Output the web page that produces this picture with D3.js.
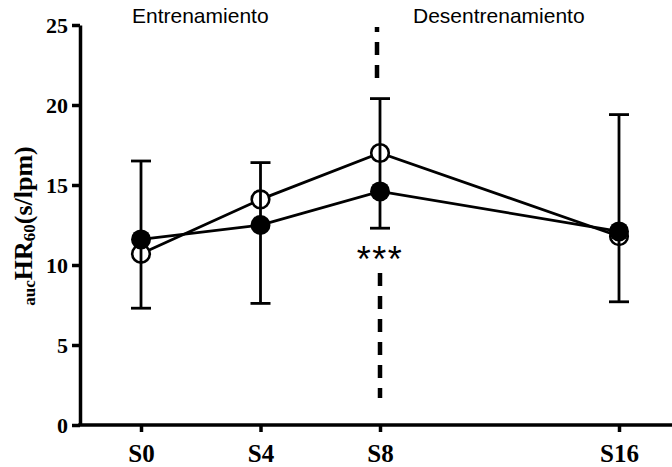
<!DOCTYPE html>
<html>
<head>
<meta charset="utf-8">
<script src="https://cdn.jsdelivr.net/npm/d3@7"></script>
<style>
  html, body { margin: 0; padding: 0; background: #ffffff; }
  svg { display: block; }
  .tickText { font: bold 22px "Liberation Serif", "Times New Roman", serif; fill: #000; }
  .xTickText { font: bold 25px "Liberation Serif", "Times New Roman", serif; fill: #000; }
  .phaseText { font: 21px "Liberation Sans", Arial, sans-serif; fill: #000; }
  .starText { font: 36px "Liberation Sans", Arial, sans-serif; fill: #000; letter-spacing: 1.5px; }
  .axisTitle { font: bold 26px "Liberation Serif", "Times New Roman", serif; fill: #000; }
</style>
</head>
<body>
<script>
const weeks = [0, 4, 8, 16];
const weekLabels = ["S0", "S4", "S8", "S16"];
const openMeans = [10.7, 14.1, 17.0, 11.8];
const filledMeans = [11.6, 12.5, 14.6, 12.1];
const errorTop = [16.5, 16.4, 20.4, 19.4];
const errorBottom = [7.3, 7.6, 12.3, 7.7];
const yTicks = [0, 5, 10, 15, 20, 25];
const phaseLabels = ["Entrenamiento", "Desentrenamiento"];
const significance = "***";

const svgWidth = 672;
const svgHeight = 467;

// Scales

const x = d3.scaleLinear().domain([0, 16]).range([141, 619]);
const y = d3.scaleLinear().domain([0, 25]).range([425, 25]);

const svg = d3
  .select("body")
  .append("svg")
  .attr("width", svgWidth)
  .attr("height", svgHeight)
  .attr("viewBox", `0 0 ${svgWidth} ${svgHeight}`);

// Y axis

const yAxis = svg
  .append("g")
  .attr("transform", "translate(80, 0)")
  .call(
    d3.axisLeft(y).tickValues(yTicks).tickSize(8).tickPadding(4).tickSizeOuter(0)
  );
yAxis.select(".domain").attr("stroke", "#000").attr("stroke-width", 3.5);
yAxis.selectAll(".tick line").attr("stroke", "#000").attr("stroke-width", 3.5);
yAxis
  .selectAll(".tick text")
  .attr("class", "tickText")
  .attr("font-family", null)
  .attr("font-size", null)
  .attr("dy", "0.36em");

// X axis

const xAxis = svg
  .append("g")
  .attr("transform", `translate(0, ${y(0)})`)
  .call(
    d3
      .axisBottom(x)
      .tickValues(weeks)
      .tickFormat((d, i) => weekLabels[i])
      .tickSize(7)
      .tickPadding(6)
      .tickSizeOuter(0)
  );
xAxis
  .select(".domain")
  .attr("d", `M78.25,0H${svgWidth}`)
  .attr("stroke", "#000")
  .attr("stroke-width", 3.5);
xAxis.selectAll(".tick line").attr("stroke", "#000").attr("stroke-width", 3.5);
xAxis
  .selectAll(".tick text")
  .attr("class", "xTickText")
  .attr("font-family", null)
  .attr("font-size", null)
  .attr("dy", "0.95em");

// Y axis title

const title = svg
  .append("text")
  .attr("class", "axisTitle")
  .attr("text-anchor", "middle")
  .attr("transform", "translate(32, 226) rotate(-90)");
title.append("tspan").attr("font-size", 17).attr("dy", 3).text("auc");
title.append("tspan").attr("dy", -3).text("HR");
title.append("tspan").attr("font-size", 17).attr("dy", 3).text("60");
title.append("tspan").attr("dy", -3).text("(s/lpm)");

// Phase labels and divider

svg
  .append("text")
  .attr("class", "phaseText")
  .attr("x", x(0) - 9)
  .attr("y", 23)
  .text(phaseLabels[0]);

svg
  .append("text")
  .attr("class", "phaseText")
  .attr("x", x(8) + 33)
  .attr("y", 23)
  .text(phaseLabels[1]);

svg
  .append("line")
  .attr("x1", x(8) - 3)
  .attr("x2", x(8) - 3)
  .attr("y1", 27)
  .attr("y2", 79)
  .attr("stroke", "#000")
  .attr("stroke-width", 4.5)
  .attr("stroke-dasharray", "13,10")
  .attr("stroke-dashoffset", 8);

svg
  .append("line")
  .attr("x1", x(8))
  .attr("x2", x(8))
  .attr("y1", 273)
  .attr("y2", 398)
  .attr("stroke", "#000")
  .attr("stroke-width", 4.5)
  .attr("stroke-dasharray", "13,10");

svg
  .append("text")
  .attr("class", "starText")
  .attr("x", x(8))
  .attr("y", 272)
  .attr("text-anchor", "middle")
  .text(significance);

// Lines

const line = d3
  .line()
  .x((d, i) => x(weeks[i]))
  .y((d) => y(d));

svg
  .append("path")
  .datum(openMeans)
  .attr("d", line)
  .attr("fill", "none")
  .attr("stroke", "#000")
  .attr("stroke-width", 2.8);

svg
  .append("path")
  .datum(filledMeans)
  .attr("d", line)
  .attr("fill", "none")
  .attr("stroke", "#000")
  .attr("stroke-width", 2.8);

// Open markers

svg
  .append("g")
  .selectAll("circle")
  .data(openMeans)
  .enter()
  .append("circle")
  .attr("cx", (d, i) => x(weeks[i]))
  .attr("cy", (d) => y(d))
  .attr("r", 8.8)
  .attr("fill", "#fff")
  .attr("stroke", "#000")
  .attr("stroke-width", 2.6);

// Error bars

const bars = svg
  .append("g")
  .attr("stroke", "#000")
  .attr("stroke-width", 2.8)
  .selectAll("g")
  .data(weeks)
  .enter()
  .append("g");

bars
  .append("line")
  .attr("x1", (d) => x(d))
  .attr("x2", (d) => x(d))
  .attr("y1", (d, i) => y(errorTop[i]))
  .attr("y2", (d, i) => y(errorBottom[i]));

bars
  .append("line")
  .attr("x1", (d) => x(d) - 10)
  .attr("x2", (d) => x(d) + 10)
  .attr("y1", (d, i) => y(errorTop[i]))
  .attr("y2", (d, i) => y(errorTop[i]));

bars
  .append("line")
  .attr("x1", (d) => x(d) - 10)
  .attr("x2", (d) => x(d) + 10)
  .attr("y1", (d, i) => y(errorBottom[i]))
  .attr("y2", (d, i) => y(errorBottom[i]));

// Filled markers

svg
  .append("g")
  .selectAll("circle")
  .data(filledMeans)
  .enter()
  .append("circle")
  .attr("cx", (d, i) => x(weeks[i]))
  .attr("cy", (d) => y(d))
  .attr("r", 10)
  .attr("fill", "#000");
</script>
</body>
</html>
